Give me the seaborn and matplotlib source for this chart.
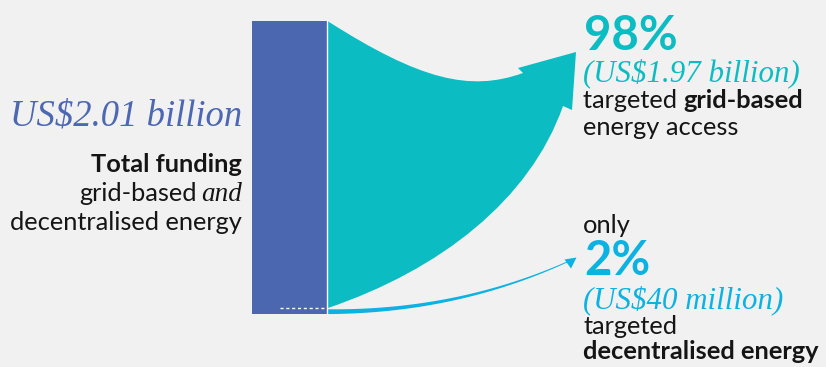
import numpy as np
import matplotlib
matplotlib.use("Agg")
import matplotlib.pyplot as plt
import matplotlib.transforms as mtransforms
from matplotlib.path import Path
from matplotlib.patches import PathPatch, Polygon
import seaborn as sns

# ---- data (US$ billion) ----
categories = ["Total funding", "Grid-based", "Decentralised"]
TOTAL = 2.01
GRID = 1.97
DECENT = 0.04
share_grid = "98%"
share_decent = "2%"
label_total = "US$2.01 billion"
label_grid = "(US$1.97 billion)"
label_decent = "(US$40 million)"

# ---- style ----
BG = "#f1f1f1"
BAR_C = "#4a67b0"
TEAL = "#0bbdc2"
BLUE = "#0bb2e2"
INK = "#151515"
SANS = ["Lato", "DejaVu Sans"]
SERIF = ["Liberation Serif", "DejaVu Serif"]
FS = 18.3

sns.set_theme(style="white")
plt.rcParams["font.family"] = SANS

W, H = 826, 367
fig = plt.figure(figsize=(W / 100, H / 100), dpi=100, facecolor=BG)
ax = fig.add_axes([0, 0, 1, 1], facecolor=BG)

# layout: bar from pixel row 314 (value 0) to 21 (value TOTAL)
BAR_BOTTOM_PX, BAR_TOP_PX = 314, 21
K = (BAR_BOTTOM_PX - BAR_TOP_PX) / TOTAL  # px per unit
BAR_X, BAR_W = 289.5, 75


def val_to_px(v):
    return BAR_BOTTOM_PX - v * K


sns.barplot(x=[BAR_X], y=[TOTAL], native_scale=True, width=BAR_W, orient="x",
            color=BAR_C, saturation=1, errorbar=None, ax=ax, linewidth=0)
ax.set_xlim(0, W)
ax.set_ylim((BAR_BOTTOM_PX - H) / K, BAR_BOTTOM_PX / K)
ax.set_axis_off()

# pixel transform (origin top-left)
pix = mtransforms.Affine2D().scale(1 / 100, -1 / 100).translate(0, H / 100) + fig.dpi_scale_trans

# dotted marker of decentralised share inside the bar
ax.plot([280, 326], [DECENT, DECENT], color="white", lw=1.0, ls=(0, (2.2, 2.0)), zorder=3)

# teal flow (grid-based share) from the bar edge to the arrow
x0 = BAR_X + BAR_W / 2 + 0.5
verts = [
    (x0, val_to_px(TOTAL)),
    (420, 80), (470, 92), (523, 73),
    (518, 68), (576, 52), (572, 110), (563, 106),
    (530, 200), (440, 270), (x0, val_to_px(DECENT)),
    (x0, val_to_px(TOTAL)),
]
codes = [Path.MOVETO, Path.CURVE4, Path.CURVE4, Path.CURVE4,
         Path.LINETO, Path.LINETO, Path.LINETO, Path.LINETO,
         Path.CURVE4, Path.CURVE4, Path.CURVE4, Path.CLOSEPOLY]
ax.add_patch(PathPatch(Path(verts, codes), facecolor=TEAL, edgecolor="none",
                       transform=pix, zorder=2))

# thin tapered arrow (decentralised share)
t = np.linspace(0, 1, 200)
P0 = np.array([x0, val_to_px(DECENT * 0.4)])
P1 = np.array([456, 312.0])
P2 = np.array([567, 262.0])
curve = ((1 - t) ** 2)[:, None] * P0 + (2 * (1 - t) * t)[:, None] * P1 + (t ** 2)[:, None] * P2
d = ((2 * (1 - t))[:, None] * (P1 - P0) + (2 * t)[:, None] * (P2 - P1))
n = np.stack([-d[:, 1], d[:, 0]], axis=1)
n /= np.linalg.norm(n, axis=1)[:, None]
hw = 2.4 * (1 - t) + 0.45 * t
upper = curve + n * hw[:, None]
lower = curve - n * hw[:, None]
ax.add_patch(Polygon(np.vstack([upper, lower[::-1]]), closed=True, facecolor=BLUE,
                     edgecolor="none", transform=pix, zorder=2))
ax.add_patch(Polygon([(576.5, 257.5), (564.5, 259.5), (571, 268.5)], closed=True,
                     facecolor=BLUE, edgecolor="none", transform=pix, zorder=2))

# white separator between bar and flow
ax.plot([BAR_X + BAR_W / 2, BAR_X + BAR_W / 2], [0, TOTAL], color="white", lw=1.0, zorder=4)

# ---- texts ----
def txt(x, y, s, **kw):
    kw.setdefault("va", "baseline")
    kw.setdefault("color", INK)
    return ax.text(x, y, s, transform=pix, **kw)

txt(242, 125, label_total, ha="right", family=SERIF, style="italic", fontsize=26.4, color="#4d68b2")
txt(242, 172, "Total funding", ha="right", fontsize=FS, weight="bold")
t_and = txt(242, 201, "and", ha="right", family=SERIF, style="italic", fontsize=19.5)
txt(242, 229.5, "decentralised energy", ha="right", fontsize=FS)

txt(584, 50, share_grid, ha="left", fontsize=34, weight="bold", color=TEAL)
txt(583, 81, label_grid, ha="left", family=SERIF, style="italic", fontsize=22.2, color=TEAL)
t_targ = txt(583, 108.5, "targeted ", ha="left", fontsize=FS)
txt(583, 135, "energy access", ha="left", fontsize=FS)

txt(583, 233, "only", ha="left", fontsize=FS)
txt(584, 275, share_decent, ha="left", fontsize=34, weight="bold", color=BLUE)
txt(583, 308, label_decent, ha="left", family=SERIF, style="italic", fontsize=22.2, color=BLUE)
txt(583, 334.5, "targeted", ha="left", fontsize=FS)
txt(583, 359, "decentralised energy", ha="left", fontsize=FS, weight="bold")

fig.canvas.draw()
r = fig.canvas.get_renderer()
inv = pix.inverted()
e_and = t_and.get_window_extent(r)
xa = inv.transform((e_and.x0, e_and.y0))[0]
txt(xa - 4, 201, "grid-based", ha="right", fontsize=FS)
e_t = t_targ.get_window_extent(r)
xt = inv.transform((e_t.x1, e_t.y0))[0]
txt(xt, 108.5, "grid-based", ha="left", fontsize=FS, weight="bold")

fig.savefig("out.png", dpi=100, facecolor=BG)
